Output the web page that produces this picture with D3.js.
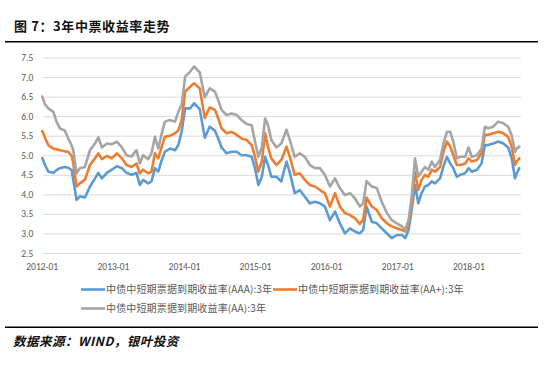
<!DOCTYPE html>
<html>
<head>
<meta charset="utf-8">
<script src="https://cdn.jsdelivr.net/npm/d3@7"></script>
<style>
html,body{margin:0;padding:0;background:#fff;}
svg{display:block;}
</style>
</head>
<body>
<svg id="chart" width="551" height="367"></svg>
<script>
const dates = ["2012-01-04","2012-01-18","2012-02-04","2012-03-01","2012-03-17","2012-04-03","2012-04-29","2012-05-16","2012-06-03","2012-06-11","2012-06-28","2012-07-15","2012-08-10","2012-09-05","2012-10-01","2012-10-18","2012-11-05","2012-12-01","2012-12-26","2013-01-21","2013-02-16","2013-03-12","2013-04-07","2013-05-02","2013-05-19","2013-06-05","2013-07-01","2013-07-18","2013-08-05","2013-08-22","2013-09-09","2013-09-25","2013-10-21","2013-11-16","2013-12-03","2013-12-20","2014-01-07","2014-02-02","2014-02-22","2014-03-23","2014-04-18","2014-05-13","2014-06-09","2014-06-26","2014-07-13","2014-08-08","2014-09-03","2014-09-29","2014-10-24","2014-11-19","2014-12-15","2015-01-01","2015-01-18","2015-02-05","2015-02-22","2015-03-09","2015-03-26","2015-04-21","2015-05-16","2015-06-12","2015-06-29","2015-07-24","2015-08-19","2015-09-14","2015-10-10","2015-11-05","2015-12-01","2015-12-26","2016-01-21","2016-02-16","2016-03-12","2016-04-07","2016-05-03","2016-05-28","2016-06-23","2016-07-10","2016-07-27","2016-08-23","2016-09-18","2016-10-13","2016-11-09","2016-12-04","2016-12-30","2017-01-25","2017-02-11","2017-02-28","2017-03-16","2017-04-02","2017-04-19","2017-05-06","2017-05-23","2017-06-10","2017-06-27","2017-07-14","2017-08-09","2017-08-26","2017-09-13","2017-09-30","2017-10-16","2017-11-03","2017-11-20","2017-12-16","2018-01-02","2018-01-19","2018-02-14","2018-03-10","2018-03-27","2018-04-13","2018-05-09","2018-06-04","2018-06-30","2018-07-25","2018-08-12","2018-08-29","2018-09-07","2018-09-20"];

const seriesAAA = [4.93,4.75,4.58,4.55,4.62,4.67,4.70,4.68,4.62,4.37,3.86,3.95,3.92,4.20,4.41,4.55,4.41,4.55,4.63,4.72,4.67,4.55,4.50,4.55,4.24,4.37,4.28,4.33,4.67,4.58,4.88,5.09,5.17,5.13,5.26,5.60,6.20,6.20,6.33,6.18,5.45,5.73,5.63,5.43,5.20,5.05,5.09,5.09,5.00,5.00,4.96,4.67,4.24,4.45,4.96,4.75,4.45,4.45,4.33,4.84,4.55,4.03,4.11,3.94,3.77,3.81,3.77,3.69,3.34,3.56,3.26,3.00,3.13,3.05,3.00,3.09,3.69,3.30,3.26,3.13,3.00,2.88,2.96,2.96,2.88,3.09,3.60,4.24,3.77,4.03,4.20,4.24,4.33,4.28,4.41,4.71,4.96,4.79,4.67,4.45,4.50,4.54,4.67,4.58,4.63,4.79,5.26,5.26,5.30,5.35,5.30,5.20,4.92,4.41,4.54,4.67];

const seriesAAplus = [5.62,5.45,5.26,5.17,5.15,5.13,5.10,5.09,4.98,4.80,4.20,4.28,4.37,4.75,4.92,5.05,4.90,4.98,4.92,5.05,4.92,4.75,4.70,4.79,4.54,4.63,4.54,4.58,5.05,4.92,5.22,5.47,5.50,5.56,5.63,5.90,6.63,6.75,6.84,6.71,5.95,6.22,6.16,5.94,5.69,5.56,5.60,5.52,5.43,5.39,5.26,4.96,4.58,4.84,5.56,5.20,4.92,4.75,4.88,5.22,4.96,4.50,4.54,4.37,4.24,4.20,4.11,4.03,3.69,4.03,3.69,3.52,3.47,3.39,3.24,3.36,3.92,3.69,3.60,3.39,3.26,3.18,3.13,3.09,3.05,3.26,3.77,4.58,4.11,4.37,4.50,4.45,4.63,4.58,4.70,5.09,5.35,5.22,5.00,4.75,4.75,4.79,4.92,4.84,4.88,5.05,5.52,5.52,5.56,5.60,5.56,5.47,5.22,4.75,4.84,4.92];

const seriesAA = [6.50,6.30,6.20,6.11,5.86,5.69,5.63,5.43,5.25,5.13,4.54,4.67,4.70,5.13,5.30,5.46,5.20,5.30,5.28,5.35,5.20,5.00,4.97,5.13,4.79,5.00,4.90,5.05,5.47,5.17,5.56,5.86,5.90,5.86,6.11,6.29,7.01,7.14,7.27,7.12,6.48,6.71,6.63,6.41,6.16,6.03,6.07,6.03,5.90,5.80,5.77,5.35,4.96,5.20,5.94,5.77,5.39,5.20,5.30,5.65,5.39,4.96,5.05,4.96,4.75,4.67,4.67,4.50,4.20,4.41,4.16,3.98,4.03,3.90,3.69,3.77,4.34,4.20,4.16,3.81,3.52,3.34,3.26,3.18,3.09,3.34,3.94,4.92,4.45,4.58,4.70,4.63,4.84,4.70,4.88,5.30,5.60,5.60,5.35,4.92,4.96,4.96,5.20,4.96,5.00,5.17,5.73,5.69,5.73,5.86,5.82,5.73,5.50,5.09,5.17,5.22];

const yTicks = [2.5,3.0,3.5,4.0,4.5,5.0,5.5,6.0,6.5,7.0,7.5];
const xTickLabels = ["2012-01","2013-01","2014-01","2015-01","2016-01","2017-01","2018-01"];
const legendLabels = ["中债中短期票据到期收益率(AAA):3年","中债中短期票据到期收益率(AA+):3年","中债中短期票据到期收益率(AA):3年"];
const titleText = "图 7：3年中票收益率走势";
const sourceText = "数据来源：WIND，银叶投资";

(function () {
const colors = ["#5B9BD5","#ED7D31","#A5A5A5"];
const parse = d3.timeParse("%Y-%m-%d");
const parseM = d3.timeParse("%Y-%m");
const dts = dates.map(parse);
const allSeries = [seriesAAA, seriesAAplus, seriesAA];

const svg = d3.select("#chart");
const pL = 41.7, pR = 519.3, pT = 57.5, pB = 253;

const x = d3.scaleTime().domain([parse("2012-01-01"), parse("2018-09-20")]).range([pL, pR]);
const y = d3.scaleLinear().domain([2.5, 7.5]).range([pB, pT]);

// title
svg.append("text").attr("x", 14).attr("y", 30.5)
  .attr("font-family", "'Noto Sans CJK SC', sans-serif").attr("font-weight", "bold")
  .attr("font-size", 13).attr("letter-spacing", 0.6).attr("fill", "#111").text(titleText);
svg.append("line").attr("x1", 5).attr("x2", 538).attr("y1", 41.7).attr("y2", 41.7)
  .attr("stroke", "#000").attr("stroke-width", 1.5);

// gridlines
const yAxis = d3.axisLeft(y).tickValues(yTicks).tickFormat(d3.format(".1f"))
  .tickSize(-(pR - pL)).tickPadding(10);
const gy = svg.append("g").attr("transform", `translate(${pL + 1.5},0)`).call(yAxis);
gy.select(".domain").remove();
gy.selectAll(".tick line").attr("stroke", "#d9d9d9").attr("stroke-width", 1);
gy.selectAll(".tick text").attr("fill", "#595959").attr("font-size", 9.5)
  .attr("font-family", "Calibri, 'Liberation Sans', 'Open Sans', sans-serif");

// x axis labels
const xAxis = d3.axisBottom(x).tickValues(xTickLabels.map(parseM))
  .tickFormat(d3.timeFormat("%Y-%m")).tickSize(0).tickPadding(10);
const gx = svg.append("g").attr("transform", `translate(0,${pB})`).call(xAxis);
gx.select(".domain").remove();
gx.selectAll(".tick text").attr("fill", "#595959").attr("font-size", 9.5)
  .attr("font-family", "Calibri, 'Liberation Sans', 'Open Sans', sans-serif");

// lines
allSeries.forEach((s, i) => {
  const n = Math.min(s.length, dts.length);
  const pts = d3.range(n).map(j => [dts[j], s[j]]);
  const line = d3.line().x(d => x(d[0])).y(d => y(d[1]));
  svg.append("path").datum(pts).attr("d", line).attr("fill", "none")
    .attr("stroke", colors[i]).attr("stroke-width", 2.6)
    .attr("stroke-linejoin", "round").attr("stroke-linecap", "round");
});

// legend
const legPos = [[81, 289.5], [273, 289.5], [81, 308.5]];
legendLabels.forEach((t, i) => {
  const [lx, ly] = legPos[i];
  svg.append("line").attr("x1", lx).attr("x2", lx + 24).attr("y1", ly).attr("y2", ly)
    .attr("stroke", colors[i]).attr("stroke-width", 2.6);
  svg.append("text").attr("x", lx + 25).attr("y", ly + 3.5)
    .attr("font-family", "'Noto Sans CJK SC', sans-serif").attr("font-size", 10)
    .attr("letter-spacing", 0.15).attr("fill", "#595959").text(t);
});

// footer
svg.append("line").attr("x1", 5).attr("x2", 538).attr("y1", 327.3).attr("y2", 327.3)
  .attr("stroke", "#000").attr("stroke-width", 1.5);
svg.append("text").attr("x", 13).attr("y", 345.5)
  .attr("font-family", "'Noto Sans CJK SC', sans-serif").attr("font-weight", "bold")
  .attr("font-style", "italic").attr("font-size", 12.5).attr("letter-spacing", 0.5)
  .attr("fill", "#111").text(sourceText);
})();
</script>
</body>
</html>
